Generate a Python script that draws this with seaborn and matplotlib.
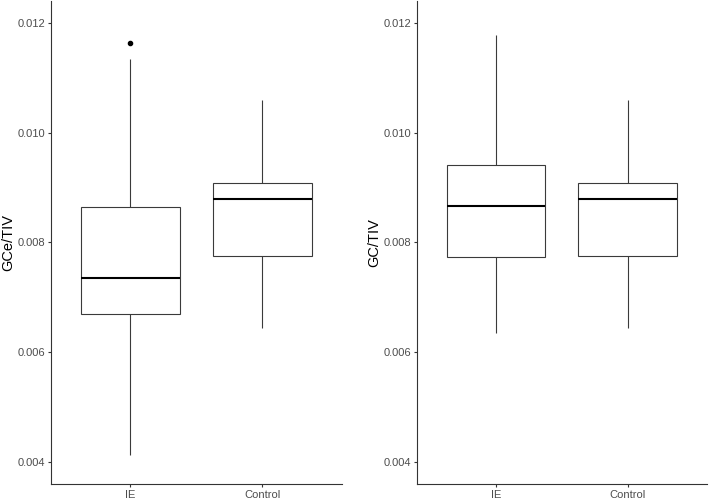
import numpy as np
import pandas as pd
import seaborn as sns
import matplotlib.pyplot as plt
from matplotlib.ticker import FormatStrFormatter

# %% Valores (bigode inferior, Q1, mediana, Q3, bigode superior)
grupos = ["IE", "Control"]
gce_ie = [0.00413, 0.00669, 0.00735, 0.00864, 0.01134]
gce_ie_outliers = [0.01164]
gce_control = [0.00645, 0.00776, 0.00879, 0.00909, 0.01060]
gc_ie = [0.00636, 0.00774, 0.00867, 0.00941, 0.01178]
gc_control = [0.00645, 0.00776, 0.00879, 0.00909, 0.01060]
yticks = [0.004, 0.006, 0.008, 0.010, 0.012]


def pontos(resumo, outliers=()):
    # 9 pontos: percentis 25/50/75 caem exatamente em Q1, mediana e Q3
    lo, q1, med, q3, hi = resumo
    extra = list(outliers) if outliers else [q3]
    return [lo, q1, q1, med, med, med, q3, hi] + extra


def tabela(ie, control, ie_out=()):
    linhas = []
    for g, vals in zip(grupos, [pontos(ie, ie_out), pontos(control)]):
        linhas += [(g, v) for v in vals]
    return pd.DataFrame(linhas, columns=["grupo", "valor"])


df_gce = tabela(gce_ie, gce_control, gce_ie_outliers)
df_gc = tabela(gc_ie, gc_control)

# %% Gráfico
sns.set_style("ticks")
plt.rcParams["font.family"] = ["Liberation Sans", "DejaVu Sans"]

fig = plt.figure(figsize=(7.09, 5.0), dpi=100)
ax1 = fig.add_axes([0.0719, 0.032, 0.410, 0.966])
ax2 = fig.add_axes([0.588, 0.032, 0.409, 0.966])

for ax, df, rotulo in [(ax1, df_gce, "GCe/TIV"), (ax2, df_gc, "GC/TIV")]:
    sns.boxplot(data=df, x="grupo", y="valor", ax=ax, order=grupos, width=0.75,
                color="white", linecolor="#3a3a3a", linewidth=0.8, showcaps=False,
                fliersize=3,
                medianprops=dict(color="black", linewidth=1.5),
                flierprops=dict(marker="o", markerfacecolor="black",
                                markeredgecolor="black"))
    ax.set_xlim(-0.6, 1.6)
    ax.set_ylim(0.0036, 0.0124)
    ax.set_yticks(yticks)
    ax.yaxis.set_major_formatter(FormatStrFormatter("%.3f"))
    ax.set_xlabel("")
    ax.set_ylabel(rotulo, fontsize=10.5, color="black", labelpad=2)
    ax.tick_params(direction="out", length=2.5, width=0.8, color="#333333",
                   labelcolor="#4D4D4D", labelsize=8, pad=1.5)
    for s in ["top", "right"]:
        ax.spines[s].set_visible(False)
    for s in ["left", "bottom"]:
        ax.spines[s].set_color("#333333")
        ax.spines[s].set_linewidth(0.8)

fig.savefig("out.png", dpi=100)
